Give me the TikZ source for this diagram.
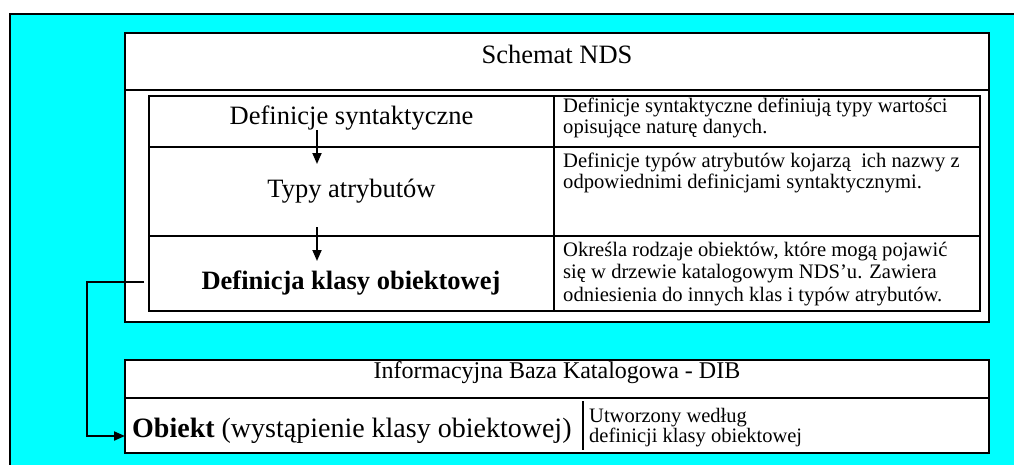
\documentclass[tikz,border=0pt]{standalone}
\usepackage{fontspec}
\setmainfont{Liberation Serif}
\usetikzlibrary{arrows.meta}
\definecolor{bgcyan}{RGB}{0,255,255}
\begin{document}
\begin{tikzpicture}[x=1pt,y=-1pt,
  frame/.style={draw=black,line width=2pt,fill=white,inner sep=0pt,outer sep=0pt},
  tablebox/.style={draw=black,line width=1.6pt,inner sep=0pt,outer sep=0pt},
  gridline/.style={draw=black,line width=1.6pt},
  big/.style={font=\fontsize{26.5}{30}\selectfont,inner sep=0pt,anchor=base},
  bigbold/.style={font=\fontsize{26.5}{30}\selectfont\bfseries,inner sep=0pt,anchor=base},
  desc/.style={font=\fontsize{20.6}{23}\selectfont,inner sep=0pt,anchor=base west},
  dibtitle/.style={font=\fontsize{24}{28}\selectfont,inner sep=0pt,anchor=base},
  obj/.style={font=\fontsize{28}{30}\selectfont,inner sep=0pt,anchor=base west},
  small/.style={font=\fontsize{20.5}{22}\selectfont,inner sep=0pt,anchor=base west},
  flow/.style={line width=1.8pt,-{Triangle[width=9pt,length=11pt]}},
  link/.style={line width=2pt,-{Triangle[width=9pt,length=11pt]}}
]
\useasboundingbox (0,0) rectangle (1014,464);
% cyan background
\fill[bgcyan] (10,14) rectangle (1030,480);
\draw[line width=2pt] (1030,14) -- (10,14) -- (10,480);

% Schemat NDS box
\node[frame,minimum width=864pt,minimum height=289pt] (nds) at (557,177.5) {};
\draw[gridline] (125,90) -- (989,90);
\node[big] (ttl) at (557,63) {Schemat NDS};

% inner table
\node[tablebox,minimum width=831pt,minimum height=215pt] (tab) at (564.5,203.5) {};
\draw[gridline] (554,96) -- (554,311);
\draw[gridline] (149,147) -- (980,147);
\draw[gridline] (149,236) -- (980,236);

\node[big] (syn) at (351.5,124) {Definicje syntaktyczne};
\node[big] (typ) at (351.5,197) {Typy atrybutów};
\node[bigbold] (kls) at (351,289) {Definicja klasy obiektowej};

\node[desc] (d1a) at (563,112) {Definicje syntaktyczne definiują typy wartości};
\node[desc] (d1b) at (563,133) {opisujące naturę danych.};
\node[desc] (d2a) at (563,167) {Definicje typów atrybutów kojarzą\ \ ich nazwy z};
\node[desc] (d2b) at (563,188) {odpowiednimi definicjami syntaktycznymi.};
\node[desc] (d3a) at (563,256) {Określa rodzaje obiektów, które mogą pojawić};
\node[desc] (d3b) at (563,278.5) {się w drzewie katalogowym NDS’u. Zawiera};
\node[desc] (d3c) at (563,301.5) {odniesienia do innych klas i typów atrybutów.};

\coordinate (a1s) at (317,130);
\coordinate (a1e) at (317,164);
\coordinate (a2s) at (317,227);
\coordinate (a2e) at (317,261);
\draw[flow] (a1s) -- (a1e);
\draw[flow] (a2s) -- (a2e);

% DIB box
\node[frame,minimum width=864pt,minimum height=93pt] (dib) at (557,406.5) {};
\draw[gridline] (125,398) -- (989,398);
\draw[gridline] (583,401) -- (583,450);
\node[dibtitle] (dibt) at (557,378) {Informacyjna Baza Katalogowa - DIB};
\node[obj] (ob) at (132,437) {\textbf{Obiekt} (wystąpienie klasy obiektowej)};
\node[small] (u1) at (589,422) {Utworzony według};
\node[small] (u2) at (589,442) {definicji klasy obiektowej};

% connector
\coordinate (c0) at (144,282);
\coordinate (c1) at (dib.west |- 0,436);
\draw[link] (c0) -- ++(-57,0) |- (c1);
\end{tikzpicture}
\end{document}
